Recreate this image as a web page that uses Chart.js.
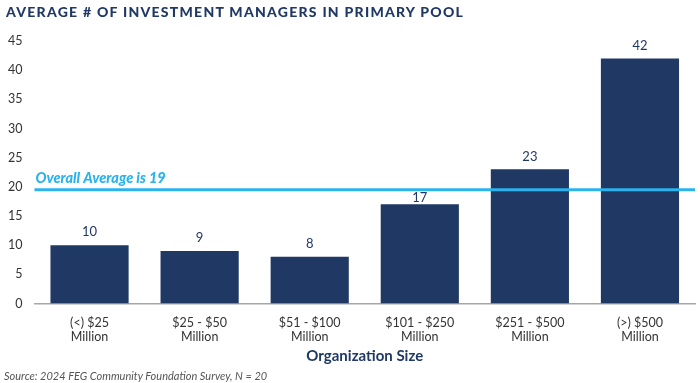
<!DOCTYPE html>
<html><head><meta charset="utf-8">
<script src="https://cdn.jsdelivr.net/npm/chart.js@4"></script>
<style>
html,body{margin:0;padding:0;background:#fff;}
#wrap{position:relative;width:700px;height:383px;}
#title{position:absolute;left:6px;top:3px;font-family:Lato,sans-serif;font-weight:900;font-size:14px;letter-spacing:1.25px;color:#1f3864;white-space:nowrap;}
#source{position:absolute;left:4px;top:369px;font-family:Lato,sans-serif;font-style:italic;font-size:11px;color:#555;white-space:nowrap;}
canvas{position:absolute;left:0;top:0;}
</style></head>
<body><div id="wrap"><canvas id="c" width="700" height="383"></canvas>
<div id="title">AVERAGE # OF INVESTMENT MANAGERS IN PRIMARY POOL</div>
<div id="source">Source: 2024 FEG Community Foundation Survey, N = 20</div></div>
<script>
const categories = [["(<) $25","Million"],["$25 - $50","Million"],["$51 - $100","Million"],["$101 - $250","Million"],["$251 - $500","Million"],["(>) $500","Million"]];
const managers = [10, 9, 8, 17, 23, 42];
const overallAverageLine = 19.5;
const averageLabel = "Overall Average is 19";
const xTitle = "Organization Size";

const navy = '#203864';
const blue = '#2BB3EE';

const overlay = {
  id:'overlay',
  afterDatasetsDraw(chart){
    const {ctx, chartArea, scales} = chart;
    const y = scales.y.getPixelForValue(overallAverageLine);
    ctx.save();
    ctx.strokeStyle = blue; ctx.lineWidth = 3;
    ctx.beginPath(); ctx.moveTo(chartArea.left, y); ctx.lineTo(chartArea.right, y); ctx.stroke();
    ctx.fillStyle = blue; ctx.font = 'italic 900 14.5px Lato, sans-serif';
    ctx.textBaseline = 'alphabetic'; ctx.textAlign = 'left';
    ctx.fillText(averageLabel, chartArea.left + 1, y - 7);
    const meta = chart.getDatasetMeta(0);
    ctx.fillStyle = navy; ctx.font = '13px Lato, sans-serif'; ctx.textAlign = 'center'; ctx.textBaseline = 'middle';
    meta.data.forEach((bar, i) => {
      let ly = bar.y - 13;
      if (Math.abs(ly - y) < 9 && bar.y > y) ly = bar.y - 7;
      ctx.fillText(String(managers[i]), bar.x, ly);
    });
    ctx.restore();
  }
};

new Chart(document.getElementById('c'), {
  type:'bar',
  data:{ labels: categories, datasets:[{ data: managers, backgroundColor: navy, barPercentage: 0.71, categoryPercentage: 1 }]},
  options:{
    responsive:false, animation:false,
    layout:{ padding:{ left:4, right:5, top:41, bottom:19 } },
    plugins:{ legend:{display:false}, tooltip:{enabled:false} },
    scales:{
      y:{ min:0, max:45, ticks:{ stepSize:5, color:'#333', font:{family:'Lato', size:12.5}, padding:4 },
          grid:{display:false}, border:{display:false} },
      x:{ ticks:{ color:'#333', font:{family:'Lato', size:12.5, lineHeight:1.1}, maxRotation:0, padding:5 },
          grid:{display:false}, border:{display:true, color:'#a6a6a6', width:1.5},
          title:{ display:true, text:xTitle, color:navy, font:{family:'Lato', size:15, weight:'bold', lineHeight:1}, padding:{top:0, bottom:0} } }
    }
  },
  plugins:[overlay]
});
</script></body></html>
